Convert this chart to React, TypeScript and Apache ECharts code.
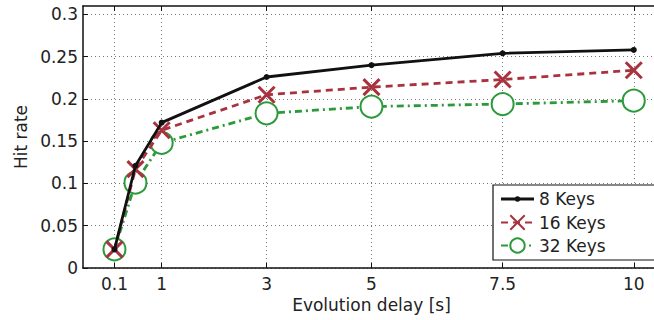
import React, { useEffect, useRef } from "react";
import * as echarts from "echarts";

const xValues = [0.1, 0.5, 1, 3, 5, 7.5, 10];
const keys8 = [0.022, 0.121, 0.172, 0.226, 0.24, 0.254, 0.258];
const keys16 = [0.022, 0.117, 0.163, 0.205, 0.214, 0.223, 0.234];
const keys32 = [0.022, 0.101, 0.148, 0.183, 0.191, 0.194, 0.198];
const xTicks = [0.1, 1, 3, 5, 7.5, 10];
const yTicks = [0, 0.05, 0.1, 0.15, 0.2, 0.25, 0.3];
const seriesNames = ["8 Keys", "16 Keys", "32 Keys"];

const FONT = "'DejaVu Sans', 'Liberation Sans', Arial, sans-serif";
const FS = 17;
const RED = "#A8323E";
const GREEN = "#2C9A3A";
const DOT_ICON =
  "path://M0,0h0.01v0.01h-0.01z M0,7.6h33v2.8h-33z M19.3,9a2.8,2.8 0 1,1 -5.6,0a2.8,2.8 0 1,1 5.6,0z M32.99,17.99h0.01v0.01h-0.01z";

export default function App() {
  const ref = useRef<HTMLDivElement>(null);
  useEffect(() => {
    if (!ref.current) return;
    const chart = echarts.init(ref.current, null, { renderer: "svg" });
    const pairs = (ys: number[]) => xValues.map((x, i) => [x, ys[i]]);
    const gridLine = { show: true, lineStyle: { color: "#777", width: 1, type: [1, 3] as any } };
    const frameLine = { show: true, onZero: false, lineStyle: { color: "#111", width: 1.5 } };
    const tick = (vals: number[]) => ({ show: true, inside: true, length: 5, customValues: vals, lineStyle: { color: "#111" } });
    chart.setOption({
      animation: false,
      textStyle: { fontFamily: FONT },
      grid: { left: 83, right: 10, top: 6, bottom: 52, containLabel: false },
      xAxis: [
        {
          type: "value",
          min: -0.5,
          max: 10.5,
          name: "Evolution delay [s]",
          nameLocation: "middle",
          nameGap: 27,
          nameTextStyle: { fontSize: FS, color: "#222", fontFamily: FONT },
          axisLine: frameLine,
          axisTick: tick(xTicks),
          axisLabel: { customValues: xTicks, fontSize: FS, color: "#222", margin: 7, fontFamily: FONT },
          splitLine: gridLine,
        },
        {
          type: "value",
          position: "top",
          min: -0.5,
          max: 10.5,
          axisLine: frameLine,
          axisTick: tick(xTicks),
          axisLabel: { show: false },
          splitLine: { show: false },
        },
      ],
      yAxis: [
        {
          type: "value",
          min: 0,
          max: 0.31,
          name: "Hit rate",
          nameLocation: "middle",
          nameGap: 51,
          nameTextStyle: { fontSize: FS, color: "#222", fontFamily: FONT },
          axisLine: frameLine,
          axisTick: tick(yTicks),
          axisLabel: { customValues: yTicks, fontSize: FS, color: "#222", margin: 5, fontFamily: FONT },
          splitLine: gridLine,
        },
        {
          type: "value",
          position: "right",
          min: 0,
          max: 0.31,
          axisLine: frameLine,
          axisTick: tick(yTicks),
          axisLabel: { show: false },
          splitLine: { show: false },
        },
      ],
      legend: {
        left: 493,
        top: 185,
        orient: "vertical",
        align: "left",
        backgroundColor: "#fff",
        borderColor: "#111",
        borderWidth: 1.2,
        borderRadius: 0,
        padding: [5, 60, 6, 7],
        itemWidth: 33,
        itemHeight: 18,
        itemGap: 6,
        textStyle: { fontSize: FS, color: "#222", lineHeight: 17, fontFamily: FONT },
        data: [{ name: seriesNames[0], icon: DOT_ICON }, seriesNames[1], seriesNames[2]],
        z: 10,
      },
      series: [
        {
          name: seriesNames[0],
          type: "line",
          data: pairs(keys8),
          symbol: "circle",
          symbolSize: 6,
          lineStyle: { color: "#111", width: 2.8 },
          itemStyle: { color: "#111" },
          z: 5,
        },
        {
          name: seriesNames[1],
          type: "line",
          data: pairs(keys16),
          symbol: "path://M0,0L10,10M10,0L0,10",
          symbolSize: 16,
          lineStyle: { color: RED, width: 2.8, type: [7, 5] as any },
          itemStyle: { color: RED, borderColor: RED, borderWidth: 3 },
          z: 4,
        },
        {
          name: seriesNames[2],
          type: "line",
          data: pairs(keys32),
          symbol: "emptyCircle",
          symbolSize: 22,
          lineStyle: { color: GREEN, width: 2.8, type: [7, 4, 2, 4] as any },
          itemStyle: { color: GREEN, borderColor: GREEN, borderWidth: 3 },
          z: 3,
        },
      ],
    });
    return () => chart.dispose();
  }, []);
  return (
    <div style={{ position: "fixed", left: 0, top: 0, width: 654, height: 320, overflow: "hidden", background: "#fff" }}>
      <div ref={ref} style={{ width: 670, height: 320 }} />
    </div>
  );
}
